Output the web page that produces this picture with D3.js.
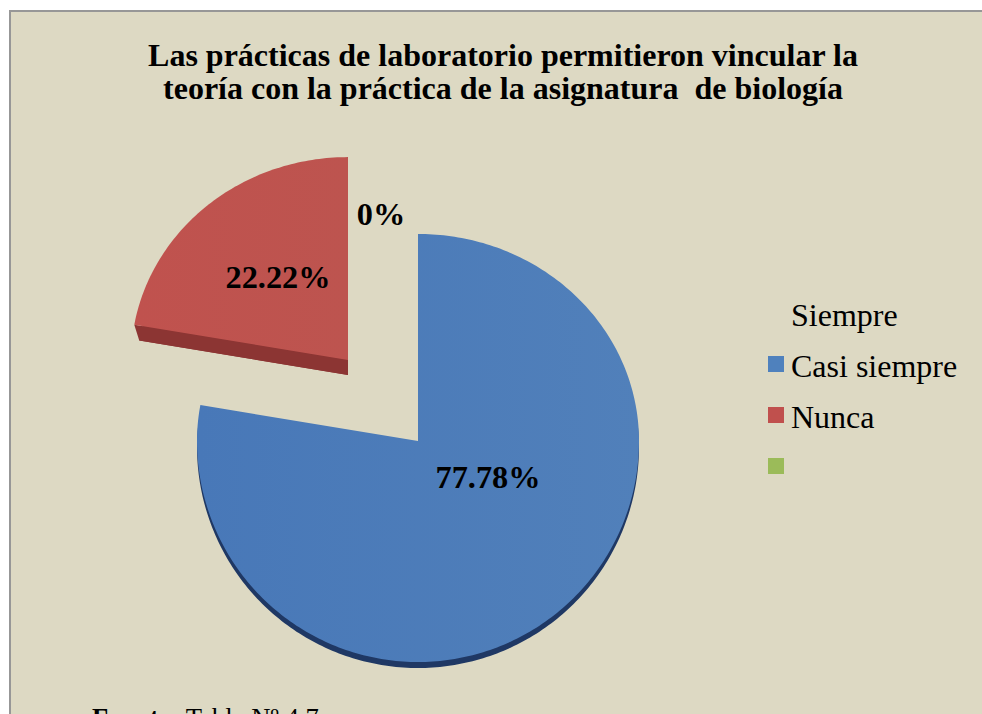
<!DOCTYPE html>
<html><head><meta charset="utf-8">
<script src="https://cdn.jsdelivr.net/npm/d3@7"></script>
<style>html,body{margin:0;padding:0;background:#fff;overflow:hidden}svg{display:block}text{font-family:"Liberation Serif","Times New Roman",serif;fill:#000}</style>
</head><body><div id="c"></div>
<script>
const categories = ["Casi siempre", "Nunca", ""];
const values = [77.78, 22.22, 0];
const valueLabels = ["77.78%", "22.22%", "0%"];
const legendLabels = ["Siempre", "Casi siempre", "Nunca", ""];
const legendColors = [null, "#4f81bd", "#c0504d", "#9bbb59"];
const titleLines = ["Las prácticas de laboratorio permitieron vincular la", "teoría con la práctica de la asignatura  de biología"];

const W = 982, H = 714;
const svg = d3.select("#c").append("svg").attr("width", W).attr("height", H);
const defs = svg.append("defs");
[["blueTop","#4878b8","#5180ba"],["redTop","#c0524e","#bd544f"]].forEach(([id,a,b])=>{
  const g = defs.append("linearGradient").attr("id",id).attr("x1",0).attr("x2",1).attr("y1",0).attr("y2",0);
  g.append("stop").attr("offset","0%").attr("stop-color",a);
  g.append("stop").attr("offset","100%").attr("stop-color",b);
});

svg.append("rect").attr("x",10).attr("y",11).attr("width",W).attr("height",H)
  .attr("fill","#ddd9c3").attr("stroke","#979797").attr("stroke-width",2);

svg.append("g").selectAll("text").data(titleLines).join("text")
  .attr("x",503).attr("y",(d,i)=>66+i*33).attr("text-anchor","middle")
  .attr("font-size",32).attr("font-weight","bold")
  .style("white-space","pre").text(d=>d);

const pie = d3.pie().sort(null).value(d=>d)(values);
// Tilted-disc projection: upper half is foreshortened more than the lower half
function sector(d, o){
  const n = Math.max(2, Math.ceil((d.endAngle-d.startAngle)*60));
  const angles = d3.range(n+1).map(i=>d.startAngle+(d.endAngle-d.startAngle)*i/n);
  const pt = a => [o.cx+o.r*Math.sin(a), o.cy-o.r*Math.cos(a)*(Math.cos(a)>0?o.up:o.down)];
  return d3.line()([[o.cx,o.cy],...angles.map(pt)])+"Z";
}
const slices = [
  {d:pie[0], top:{cx:418,cy:441,r:221,up:0.937,down:1.0}, side:{cx:418,cy:447,r:221,up:0.937,down:1.0}, fill:"url(#blueTop)", sideFill:"#1f3864"},
  {d:pie[1], top:{cx:348,cy:360,r:217,up:0.935,down:1.0}, side:{cx:348,cy:375,r:212,up:0.935,down:1.0}, fill:"url(#redTop)", sideFill:"#8c3533"}
];
const gp = svg.append("g");
gp.selectAll("path.side").data(slices).join("path").attr("class","side")
  .attr("d",s=>sector(s.d,s.side)).attr("fill",s=>s.sideFill);
// fill the joint between the top face and the bottom face of the exploded slice
gp.append("path").attr("d",()=>{
  const s=slices[1], a=s.d.startAngle;
  const p=o=>[o.cx+o.r*Math.sin(a), o.cy-o.r*Math.cos(a)*o.up];
  return d3.line()([[s.top.cx,s.top.cy],p(s.top),p(s.side),[s.side.cx,s.side.cy]])+"Z";
}).attr("fill",slices[1].sideFill);
gp.selectAll("path.top").data(slices).join("path").attr("class","top")
  .attr("d",s=>sector(s.d,s.top)).attr("fill",s=>s.fill);

const labelPos = [[488,488],[278,288],[381,225]];
svg.append("g").selectAll("text").data(valueLabels).join("text")
  .attr("x",(d,i)=>labelPos[i][0]).attr("y",(d,i)=>labelPos[i][1]).attr("text-anchor","middle")
  .attr("font-size",32.3).attr("font-weight","bold").text(d=>d);

const lg = svg.append("g").selectAll("g").data(legendLabels).join("g")
  .attr("transform",(d,i)=>`translate(768,${314+i*51})`);
lg.filter((d,i)=>legendColors[i]).append("rect").attr("y",-9).attr("width",16).attr("height",16)
  .attr("fill",d=>legendColors[legendLabels.indexOf(d)]);
lg.append("text").attr("x",23).attr("y",12).attr("font-size",32).text(d=>d);

svg.append("text").attr("x",92).attr("y",727).attr("font-size",26.7)
  .html('<tspan font-weight="bold">Fuente:</tspan> Tabla Nº 4.7');
</script></body></html>
